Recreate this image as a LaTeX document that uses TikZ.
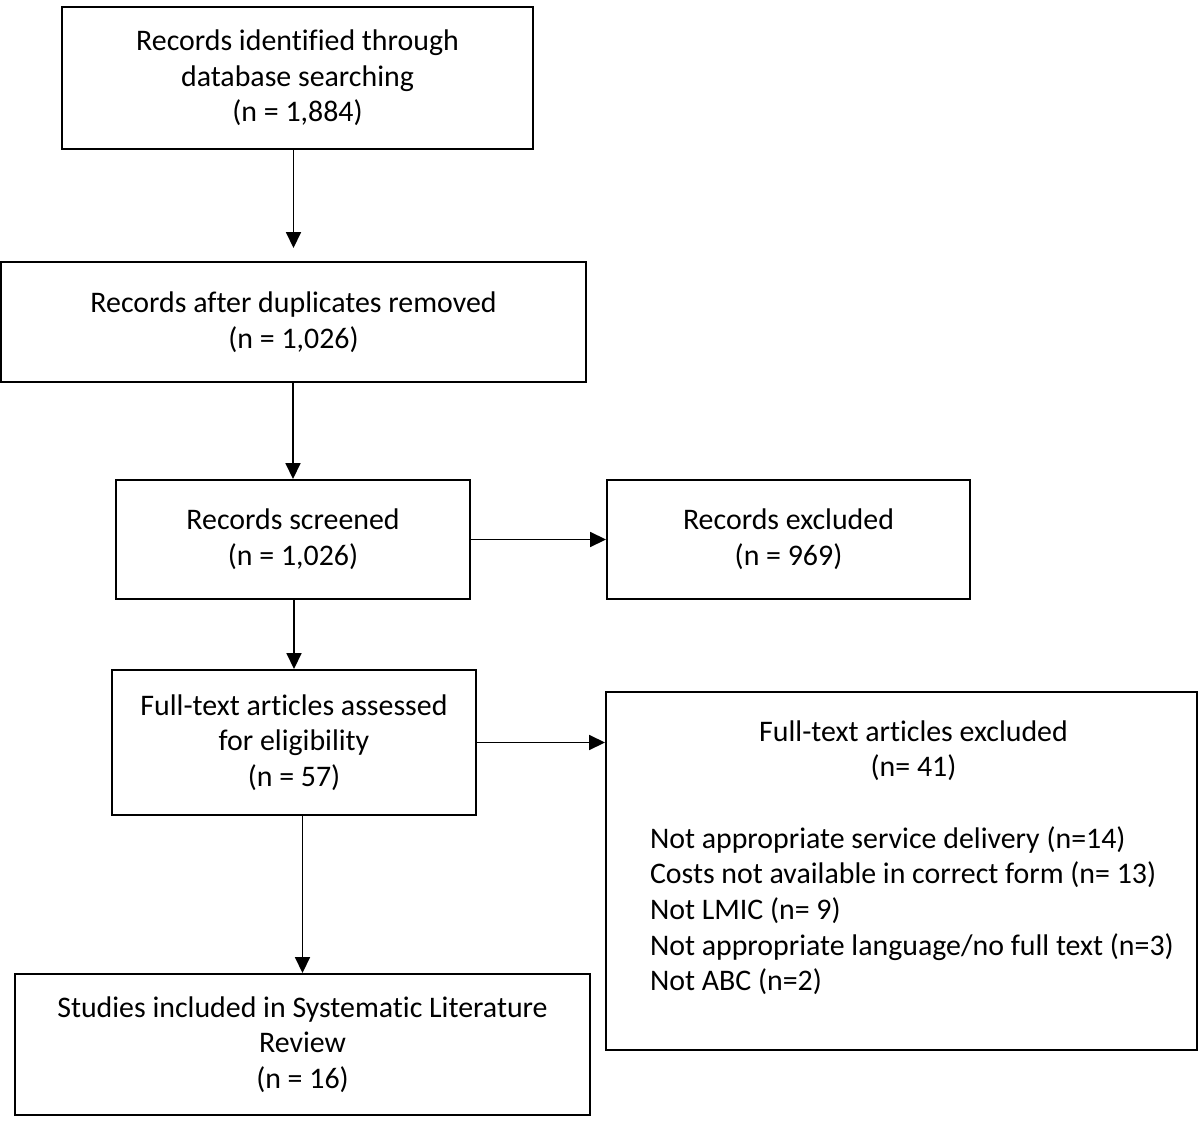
\documentclass[tikz,border=0pt]{standalone}
\usepackage{fontspec}
\setmainfont{Carlito}[Ligatures=NoCommon]
\usetikzlibrary{arrows.meta}

\begin{document}
\begin{tikzpicture}[
  box/.style={draw, line width=1.1pt, align=center, inner sep=0pt,
    font=\fontsize{17}{20.3}\selectfont},
  flow/.style={-{Triangle[length=3.2mm, width=3mm]}, line width=1pt},
]
\useasboundingbox (0,0) rectangle (24,-22.58);
% identification
\node[box, minimum width=9.42cm, minimum height=2.84cm] (ident) at (5.95,-1.56)
  {Records identified through\\database searching\\(n = 1,884)};
\node[box, minimum width=11.7cm, minimum height=2.4cm] (dedup) at (5.87,-6.44)
  {Records after duplicates removed\\(n = 1,026)};
% screening
\node[box, minimum width=7.08cm, minimum height=2.38cm] (screen) at (5.86,-10.79)
  {Records screened\\(n = 1,026)};
\node[box, minimum width=7.26cm, minimum height=2.38cm] (recexcl) at (15.77,-10.79)
  {Records excluded\\(n = 969)};
% eligibility
\node[box, minimum width=7.28cm, minimum height=2.9cm] (fulltext) at (5.88,-14.85)
  {Full-text articles assessed\\for eligibility\\(n = 57)};
\node[box] (ftexcl) at (18.03,-17.42) {%
  \begin{minipage}[c][7.16cm][t]{11.82cm}
  \vspace*{0.57cm}
  {\centering\hspace*{0.48cm}Full-text articles excluded\\
   \hspace*{0.48cm}(n= 41)\par}
  \vspace{\baselineskip}
  \raggedright\leftskip=0.88cm\parindent=0pt
  Not appropriate service delivery (n=14)\\
  Costs not available in correct form (n= 13)\\
  Not LMIC (n= 9)\\
  Not appropriate language/no full text (n=3)\\
  Not ABC (n=2)\par
  \end{minipage}};
% included
\node[box, minimum width=11.5cm, minimum height=2.82cm] (incl) at (6.05,-20.89)
  {Studies included in Systematic Literature\\Review\\(n = 16)};
% arrows
\draw[flow, shorten >=0.26cm] (ident.south -| dedup.north) -- (dedup.north);
\draw[flow] (dedup.south -| screen.north) -- (screen.north);
\draw[flow] (screen.east) -- (recexcl.west);
\draw[flow] (screen.south -| fulltext.north) -- (fulltext.north);
\draw[flow] (fulltext.east) -- (fulltext.east -| ftexcl.west);
\draw[flow] (fulltext.south -| incl.north) -- (incl.north);
\end{tikzpicture}
\end{document}
